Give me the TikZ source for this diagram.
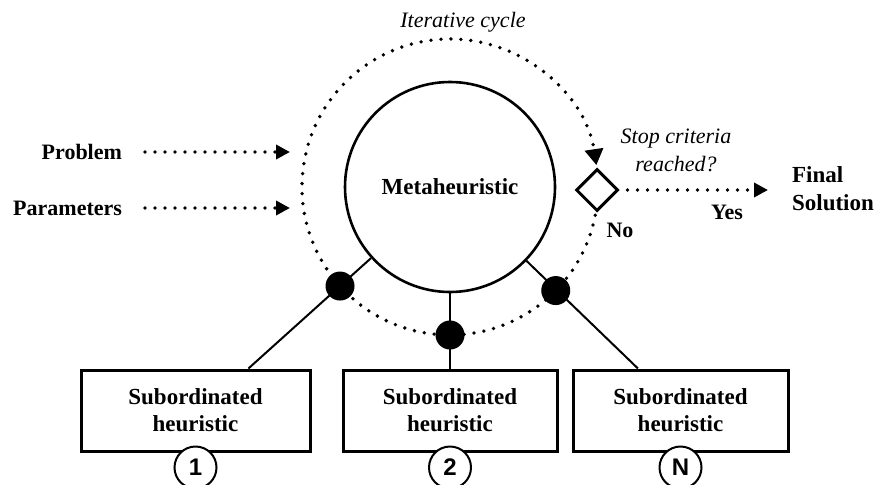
\documentclass[tikz,border=0pt]{standalone}
\usepackage{fontspec}
\setmainfont{Liberation Serif}
\setsansfont{Liberation Sans}
\usepackage{tikz}
\usetikzlibrary{positioning,arrows.meta,shapes.geometric}

\begin{document}
\begin{tikzpicture}[x=0.5pt,y=0.5pt,
box/.style={draw,line width=1.5pt,minimum height=40.5pt,align=center,font=\bfseries\fontsize{11.5}{13.5}\selectfont},
num/.style={circle,draw,fill=white,line width=1pt,minimum size=21pt,inner sep=0pt,font=\sffamily\bfseries\fontsize{12}{12}\selectfont},
hub/.style={circle,fill=black,minimum size=14.5pt,inner sep=0pt},
lbl/.style={font=\bfseries\fontsize{11}{13.5}\selectfont},
note/.style={font=\itshape\fontsize{11}{14}\selectfont,align=center},
cyc/.style={line width=1.9pt,line cap=round,dash pattern=on 0pt off 5pt},
tip/.style={-{Triangle[length=7pt,width=7pt]}},
bigtip/.style={-{Triangle[length=8pt,width=9pt]}},
link/.style={line width=1pt}]
\useasboundingbox (0,0) rectangle (876,484);

% nodes
\node[circle,draw,line width=1.3pt,minimum size=105pt,inner sep=0pt,font=\bfseries\fontsize{11.5}{13.5}\selectfont](meta) at (450,297){Metaheuristic};
\node[diamond,draw,line width=1.5pt,minimum size=21pt,inner sep=0pt](stop) at (597,294){};

\node[box,minimum width=114.5pt](h1) at (195.5,73.5){Subordinated\\heuristic};
\node[box,minimum width=107pt](h2) at (450,73.5){Subordinated\\heuristic};
\node[box,minimum width=107.5pt](h3) at (680.5,73.5){Subordinated\\heuristic};

% labels
\node[note](iter) at (463,462){Iterative cycle};
\node[note](crit) at (676,334){Stop criteria\\reached?};
\node[lbl,anchor=east](prob) at (129,332){Problem};
\node[lbl,anchor=east](param) at (129,276){Parameters};
\node[lbl](yes) at (727,272){Yes};
\node[lbl](no) at (620,254){No};
\node[lbl,anchor=west,align=left,font=\bfseries\fontsize{11.5}{14}\selectfont](fin) at (785,295){Final\\Solution};

% ends of the input arrows
\coordinate (probend) at (290,332);
\coordinate (paramend) at (290,276);
\coordinate (yesend) at (768,294);

% iterative cycle
\draw[cyc,bigtip] ([shift={(-11:148)}]meta.center) arc[start angle=-11,end angle=-351.5,radius=148];
\draw[cyc,tip,shorten <=8pt] (prob.east) -- (probend);
\draw[cyc,tip,shorten <=8pt] (param.east) -- (paramend);
\draw[cyc,tip,shorten <=4pt] (stop.east) -- (yesend);

% links to the subordinated heuristics
\draw[link] (meta.222) -- (intersection of meta.center--meta.222 and h1.north west--h1.north east);
\draw[link] (meta.south) -- (h2.north);
\draw[link] (meta.-44.4) -- (intersection of meta.center--meta.-44.4 and h3.north west--h3.north east);

\node[hub](d1) at ([shift={(222:148)}]meta.center){};
\node[hub](d2) at ([shift={(270:148)}]meta.center){};
\node[hub](d3) at ([shift={(315.6:148)}]meta.center){};

% numbers
\node[num,below=-3.5pt of h1](n1){1};
\node[num,below=-3.5pt of h2](n2){2};
\node[num,below=-3.5pt of h3](n3){N};
\end{tikzpicture}
\end{document}
